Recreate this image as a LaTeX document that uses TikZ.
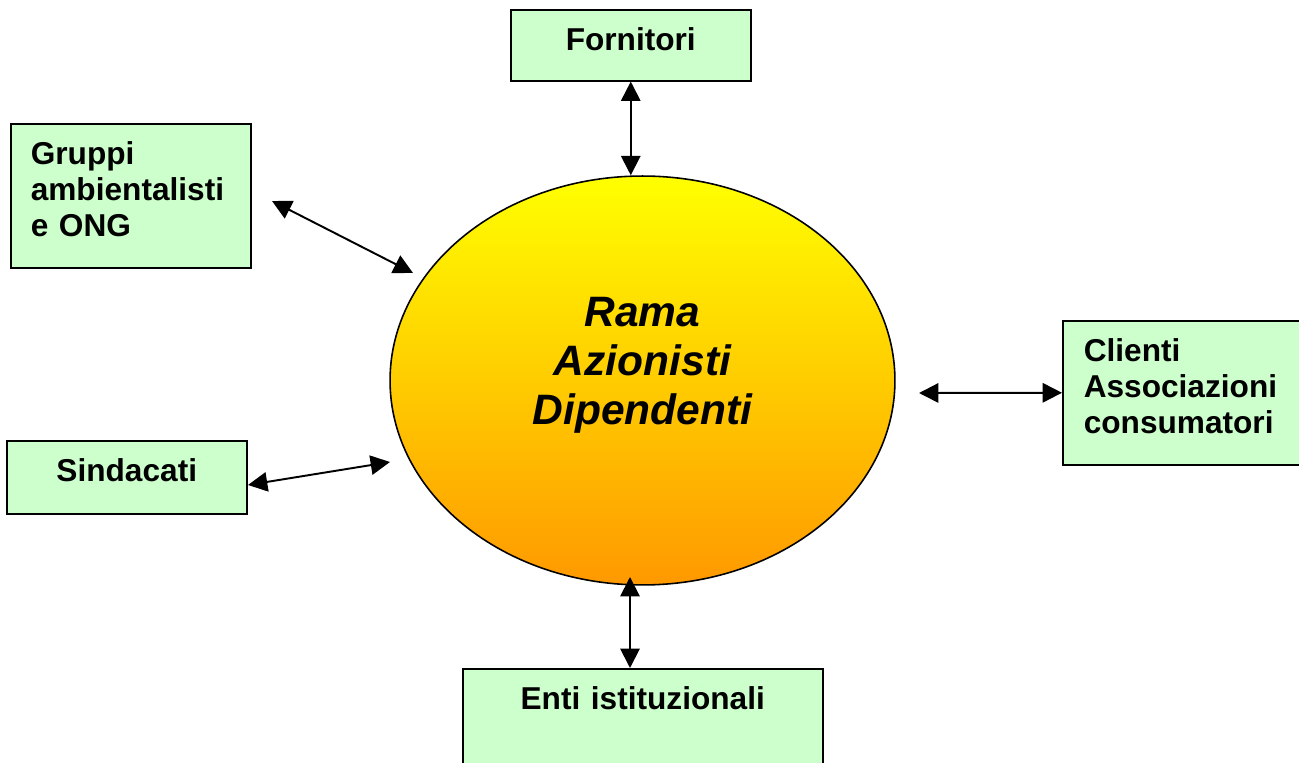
\documentclass[tikz,border=0pt]{standalone}
\usepackage{fontspec}
\setmainfont{Liberation Sans}
\usetikzlibrary{arrows.meta}
\usetikzlibrary{shapes.geometric}

\definecolor{stakegreen}{RGB}{204,255,204}
\definecolor{ramaorange}{RGB}{255,153,0}

\tikzset{
	stake/.style={draw=black, fill=stakegreen, line width=0.9pt, anchor=north west, inner ysep=0pt, text height=0.82cm, font=\bfseries\fontsize{18}{20.5}\selectfont},
	link/.style={{Triangle[length=11pt,width=11pt]}-{Triangle[length=11pt,width=11pt]}, line width=1.1pt}
}

\begin{document}
\begin{tikzpicture}[x=0.02cm, y=-0.02cm]

	%page frame, boxes at the edges are cut
	\clip (0,0) rectangle (1299,763);

	%central ellipse
	\node[ellipse, draw=black, line width=0.9pt, top color=yellow, bottom color=ramaorange, minimum width=10.1cm, minimum height=8.18cm, inner sep=0pt, text width=6cm, align=center, text height=0.6cm, text depth=2.75cm, font=\bfseries\itshape\fontsize{24.2}{27.9}\selectfont] (rama) at (642.5,380.5) {Rama\\Azionisti\\Dipendenti};

	%stakeholder boxes
	\node[stake, text width=4.8cm, inner xsep=0pt, align=center, text depth=0.6cm] (fornitori) at (510,9) {Fornitori};
	\node[stake, text width=4cm, inner xsep=0.4cm, align=left, text depth=2.06cm] (gruppi) at (10,123) {Gruppi\\ambientalisti\\e ONG};
	\node[stake, text width=3.96cm, inner xsep=0.42cm, align=left, text depth=2.06cm] (clienti) at (1062,320) {Clienti\\Associazioni\\consumatori};
	\node[stake, text width=4.8cm, inner xsep=0pt, align=center, text depth=0.64cm] (sindacati) at (6,440) {Sindacati};
	\node[stake, text width=7.2cm, inner xsep=0pt, align=center, text depth=2.06cm] (enti) at (462,668) {Enti istituzionali};

	%free arrow ends
	\coordinate (gruppiA) at (272,201);
	\coordinate (gruppiB) at (413,273);
	\coordinate (clientiA) at (919,393);
	\coordinate (sindacatiA) at (248,485);
	\coordinate (sindacatiB) at (390,462);
	\coordinate (entiA) at (630,577);

	%double arrows
	\draw[link] (fornitori.south) -- (fornitori.south |- rama.north);
	\draw[link] (gruppiA) -- (gruppiB);
	\draw[link] (clientiA) -- (clienti.west);
	\draw[link] (sindacatiA) -- (sindacatiB);
	\draw[link] (entiA) -- (entiA |- enti.north);

\end{tikzpicture}
\end{document}
